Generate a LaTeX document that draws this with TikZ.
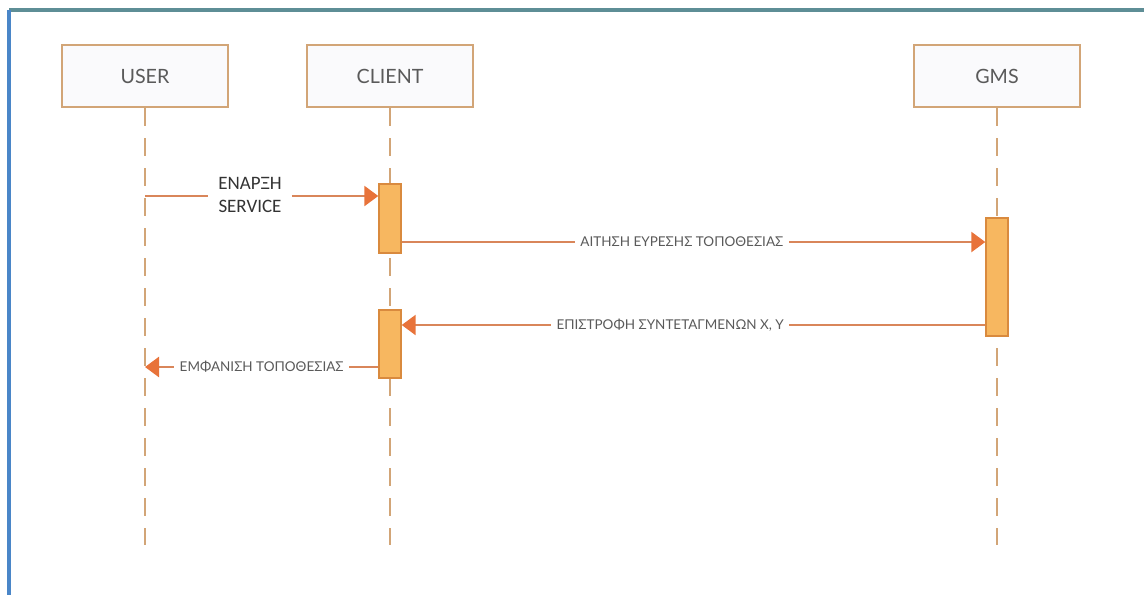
\documentclass[tikz,border=0pt]{standalone}
\usepackage{fontspec}
\setmainfont{Lato}
\newfontfamily\calfont{Carlito}
\usetikzlibrary{
    arrows.meta,
    positioning,
    calc
}
\definecolor{boxline}{HTML}{D2A577}
\definecolor{boxfill}{HTML}{FAFAFC}
\definecolor{barfill}{HTML}{F7B760}
\definecolor{barline}{HTML}{D98A3E}
\definecolor{msgline}{HTML}{D9865A}
\definecolor{tipcol}{HTML}{E8733A}
\definecolor{txtgray}{HTML}{5A5A5A}
\definecolor{frametop}{HTML}{5E8E96}
\definecolor{frameleft}{HTML}{4A86C8}

\begin{document}
\begin{tikzpicture}[
    x=0.025cm, y=-0.025cm,
    actor/.style={rectangle, minimum width=4.15cm, minimum height=1.55cm,
                  text centered, draw=boxline, fill=boxfill, line width=1.4pt,
                  text=txtgray, font=\fontsize{14}{16}\selectfont},
    lifeline/.style={draw=boxline, line width=1pt, dash pattern=on 0.45cm off 0.3cm},
    activation/.style={rectangle, minimum width=0.55cm, draw=barline,
                       fill=barfill, line width=1pt, inner sep=0pt},
    msg/.style={draw=msgline, line width=1.8pt},
    arrow/.style={msg, -{Triangle[length=0.35cm, width=0.5cm, color=tipcol]}},
    lbl/.style={fill=white, inner sep=4pt, text=txtgray,
                font=\fontsize{9.6}{12}\selectfont}
]

    \useasboundingbox (0,0) rectangle (1144,595);
    % frame
    \draw[color=frametop, line width=2.2pt] (9,10) -- (1144,10);
    \draw[color=frameleft, line width=2.2pt] (9,10) -- (9,595);

    % actors
    \node (user) [actor] at (145,76) {USER};
    \node (client) [actor] at (390,76) {CLIENT};
    \node (gms) [actor] at (997,76) {GMS};

    % lifelines
    \foreach \a in {user, client, gms}
        \draw[lifeline] (\a.south) -- (\a.south |- 0,545);

    % activation bars
    \node (actA) [activation, minimum height=1.725cm] at (390,218.5) {};
    \node (actB) [activation, minimum height=1.7cm] at (390,344) {};
    \node (actC) [activation, minimum height=2.95cm] at (997,277) {};

    % messages
    \coordinate (start) at (145,196);
    \node (begin) [font=\calfont\fontsize{13.5}{16}\selectfont, text=black!80,
                   align=center, inner sep=7pt] at (250,195) {ΕΝΑΡΞΗ\\SERVICE};
    \draw[msg] (start) -- (start -| begin.west);
    \draw[arrow] (start -| begin.east) -- (start -| actA.west);

    \draw[arrow] ($(actA.east)+(0,23.5)$) coordinate (reqA)
        -- node[lbl, pos=0.48] {ΑΙΤΗΣΗ ΕΥΡΕΣΗΣ ΤΟΠΟΘΕΣΙΑΣ} (reqA -| actC.west);

    \draw[arrow] ($(actC.west)+(0,48)$) coordinate (retC)
        -- node[lbl, pos=0.54] {ΕΠΙΣΤΡΟΦΗ ΣΥΝΤΕΤΑΓΜΕΝΩΝ Χ, Υ} (retC -| actB.east);

    \draw[arrow] ($(actB.west)+(0,23)$) coordinate (showB)
        -- node[lbl, pos=0.5] {ΕΜΦΑΝΙΣΗ ΤΟΠΟΘΕΣΙΑΣ} (showB -| user.south);

\end{tikzpicture}
\end{document}
